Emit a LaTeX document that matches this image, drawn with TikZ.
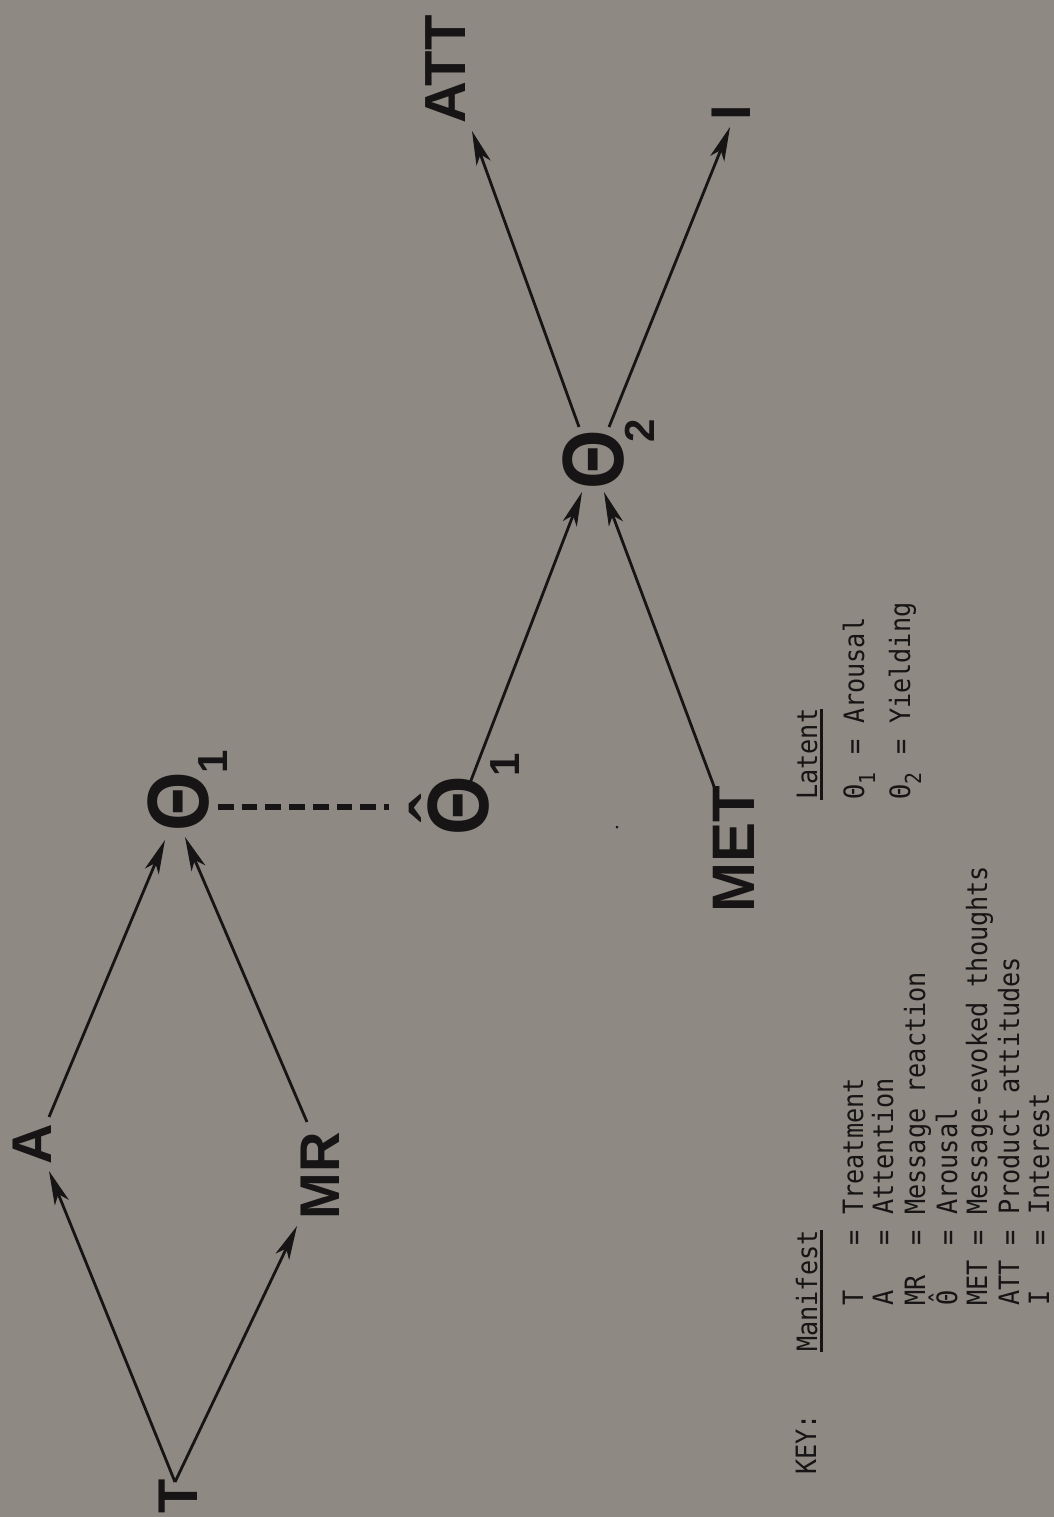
\documentclass[tikz,border=0pt]{standalone}
\usepackage{graphicx}
\usepackage{fontspec}
\setmainfont{Liberation Sans}
\newfontfamily\keyfont[FakeStretch=0.9]{DejaVu Sans Mono}
\usetikzlibrary{arrows.meta,calc}
\definecolor{bg}{RGB}{142,137,131}
\definecolor{ink}{RGB}{22,20,20}
\newcommand\keyul[1]{\setbox0\hbox{#1}\rlap{\rule[-5.5pt]{\wd0}{2.2pt}}\box0}
\newcommand\keysub[1]{\makebox[0.542em][l]{\raisebox{-11pt}{\fontsize{22}{22}\selectfont #1}}}
\newcommand\keyhat{\makebox[0.542em][c]{\ooalign{Θ\cr\hidewidth\raisebox{0.22em}{ˆ}\hidewidth\cr}}}
\begin{document}
\begin{tikzpicture}[x=1pt,y=1pt,
  lbl/.style={rotate=90, inner sep=0pt, text=ink, font=\fontsize{56}{56}\selectfont\bfseries},
  theta/.style={rotate=90, inner sep=0pt, text=ink, font=\fontsize{87}{87}\selectfont\bfseries},
  hatmark/.style={rotate=90, inner sep=0pt, anchor=base, text=ink, font=\fontsize{87}{87}\selectfont},
  subs/.style={rotate=90, inner sep=0pt, text=ink, font=\fontsize{42}{42}\selectfont\bfseries},
  conn/.style={draw=ink, line width=2.8pt, -{Stealth[length=34pt,width=15pt,inset=9pt]}},
  dashline/.style={draw=ink, line width=6pt, dash pattern=on 15.7pt off 8pt},
  keytext/.style={rotate=90, inner sep=0pt, anchor=base west, text=ink, font=\keyfont\fontsize{28}{28}\selectfont}
]
\fill[bg] (0,0) rectangle (1054,-1517);
\useasboundingbox (0,0) rectangle (1054,-1517);

% manifest variables
\node[lbl] (T) at (178,-1496.5) {T};
\node[lbl] (A) at (32.5,-1144) {A};
\node[lbl] (MR) at (320,-1175.5) {MR};
\node[lbl, font=\fontsize{60}{60}\selectfont\bfseries] (MET) at (733.5,-849.5) {MET};
\node[lbl, font=\fontsize{58}{58}\selectfont\bfseries] (ATT) at (446,-69.5) {ATT};
\node[lbl] (I) at (731.5,-112.5) {I};

% latent variables
\node[theta] (th1) at (179,-802) {\scalebox{0.88}[1]{Θ}};
\node[subs] (th1s) at (213,-762) {1};
\node[theta] (th1h) at (458.5,-805.5) {\scalebox{0.88}[1]{Θ}};
\node[hatmark] (hat) at (472,-808.5) {ˆ};
\node[subs] (th1hs) at (505,-765) {1};
\node[theta] (th2) at (594,-459.5) {\scalebox{0.88}[1]{Θ}};
\node[subs] (th2s) at (640,-430.5) {2};

% connectors
\draw[conn] ($(T)+(-3,14.5)$) -- ($(A)+(16.5,-27)$);
\draw[conn] ($(T)+(-3,14.5)$) -- ($(MR)+(-23,-50.5)$);
\draw[conn] ($(A)+(16.5,27)$) -- ($(th1)+(-14,-38)$);
\draw[conn] ($(MR)+(-13,53.5)$) -- ($(th1)+(6,-35)$);
\draw[dashline] ($(th1)+(39,-5)$) -- ($(th1h)+(-69.5,-1.5)$);
\draw[conn] ($(th1h)+(11.5,22.5)$) -- ($(th2)+(-12,-32.5)$);
\draw[conn] ($(MET)+(-18.5,60.5)$) -- ($(th2)+(10,-32.5)$);
\draw[conn] ($(th2)+(-15,32.5)$) -- ($(ATT)+(26,-61.5)$);
\draw[conn] ($(th2)+(15,32.5)$) -- ($(I)+(-1.5,-14.5)$);

% speck
\fill[ink] (617,-827) circle (1.5);

% key
\node[keytext] (key) at (816,-1475) {KEY:};
\node[keytext] (man) at (817,-1352) {\keyul{Manifest}};
\node[keytext] (k1) at (863,-1306) {T~~~=~Treatment};
\node[keytext] (k2) at (893,-1306) {A~~~=~Attention};
\node[keytext] (k3) at (925,-1306) {MR~~=~Message reaction};
\node[keytext] (k4) at (957,-1306) {\keyhat~~~=~Arousal};
\node[keytext] (k5) at (987,-1306) {MET~=~Message-evoked thoughts};
\node[keytext] (k6) at (1019,-1306) {ATT~=~Product attitudes};
\node[keytext] (k7) at (1049,-1306) {I~~~=~Interest};
\node[keytext] (lat) at (817,-800) {\keyul{Latent}};
\node[keytext] (l1) at (864,-800) {Θ\keysub{1}~=~Arousal};
\node[keytext] (l2) at (910,-800) {Θ\keysub{2}~=~Yielding};
\end{tikzpicture}
\end{document}
